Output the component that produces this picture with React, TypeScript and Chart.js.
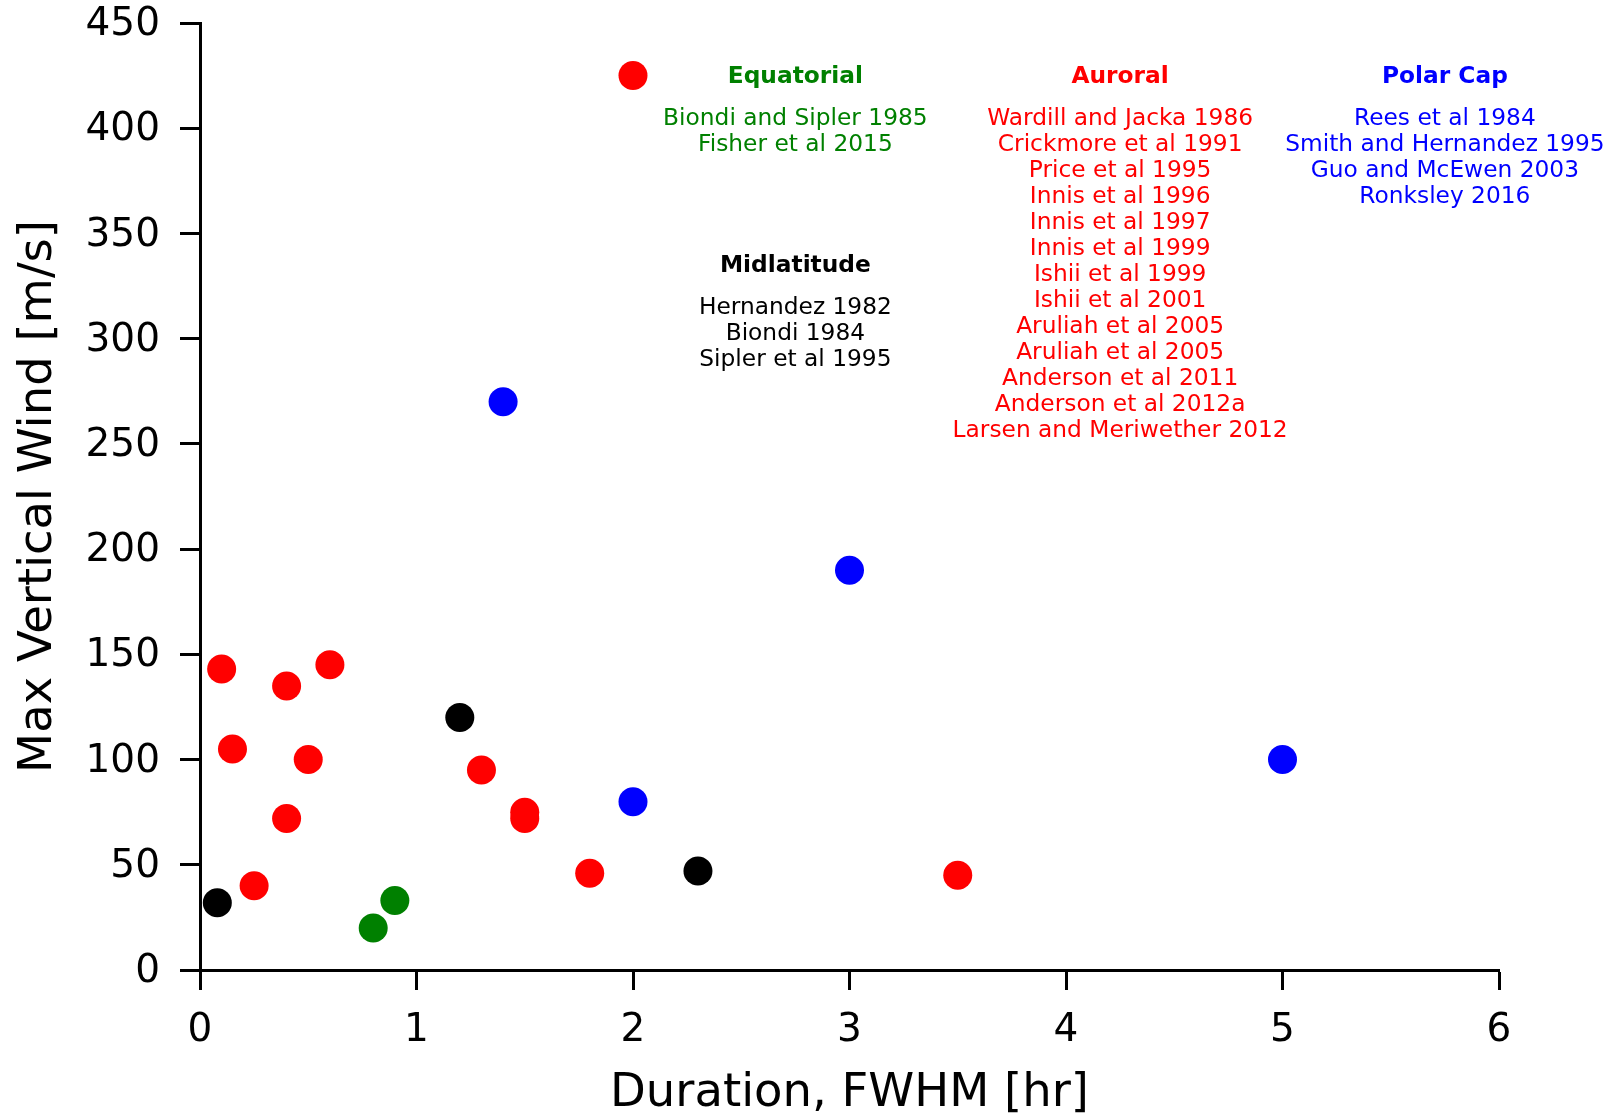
import React, { useEffect, useRef } from "react";
import { Chart, registerables } from "chart.js";

Chart.register(...registerables);

// ---- Data ----
const equatorialX = [0.8, 0.9];
const equatorialY = [20, 33];

const midlatitudeX = [0.08, 1.2, 2.3];
const midlatitudeY = [32, 120, 47];

const auroralX = [2.0, 0.1, 0.15, 0.4, 0.6, 0.5, 0.4, 0.25, 1.3, 1.5, 1.5, 1.8, 3.5];
const auroralY = [425, 143, 105, 135, 145, 100, 72, 40, 95, 75, 72, 46, 45];

const polarCapX = [1.4, 3.0, 2.0, 5.0];
const polarCapY = [270, 190, 80, 100];

const xTickValues = [0, 1, 2, 3, 4, 5, 6];
const yTickValues = [0, 50, 100, 150, 200, 250, 300, 350, 400, 450];

const equatorialRefs = ["Biondi and Sipler 1985", "Fisher et al 2015"];
const midlatitudeRefs = ["Hernandez 1982", "Biondi 1984", "Sipler et al 1995"];
const auroralRefs = [
  "Wardill and Jacka 1986",
  "Crickmore et al 1991",
  "Price et al 1995",
  "Innis et al 1996",
  "Innis et al 1997",
  "Innis et al 1999",
  "Ishii et al 1999",
  "Ishii et al 2001",
  "Aruliah et al 2005",
  "Aruliah et al 2005",
  "Anderson et al 2011",
  "Anderson et al 2012a",
  "Larsen and Meriwether 2012",
];
const polarCapRefs = ["Rees et al 1984", "Smith and Hernandez 1995", "Guo and McEwen 2003", "Ronksley 2016"];

const groupNames = ["Equatorial", "Midlatitude", "Auroral", "Polar Cap"];
const groupColors = ["#008000", "#000000", "#ff0000", "#0000ff"];
// annotation anchors in data coordinates
const annotationX = [2.75, 2.75, 4.25, 5.75];
const annotationHeaderY = [425, 335, 425, 425];
const annotationListY = [405, 315, 405, 405];
const annotationRefs = [equatorialRefs, midlatitudeRefs, auroralRefs, polarCapRefs];

const FONT = "'DejaVu Sans', 'Liberation Sans', sans-serif";

const zip = (xs: number[], ys: number[]) => xs.map((x, i) => ({ x, y: ys[i] }));

const annotationPlugin = {
  id: "refAnnotations",
  afterDatasetsDraw(chart: any) {
    const { ctx } = chart;
    const xs = chart.scales.x;
    const ys = chart.scales.y;
    ctx.save();
    ctx.textAlign = "center";
    ctx.textBaseline = "middle";
    const lineStep = 26;
    const nudge = 1;
    for (let g = 0; g < groupNames.length; g++) {
      const px = xs.getPixelForValue(annotationX[g]);
      ctx.fillStyle = groupColors[g];
      ctx.font = `bold 23.3px ${FONT}`;
      ctx.fillText(groupNames[g], px, ys.getPixelForValue(annotationHeaderY[g]) + nudge);
      ctx.font = `23.3px ${FONT}`;
      const startY = ys.getPixelForValue(annotationListY[g]) + nudge;
      annotationRefs[g].forEach((t, i) => {
        ctx.fillText(t, px, startY + i * lineStep);
      });
    }
    ctx.restore();
  },
};

export default function App() {
  const canvasRef = useRef<HTMLCanvasElement | null>(null);

  useEffect(() => {
    if (!canvasRef.current) return;
    const xsets = [equatorialX, midlatitudeX, auroralX, polarCapX];
    const ysets = [equatorialY, midlatitudeY, auroralY, polarCapY];
    const chart = new Chart(canvasRef.current, {
      type: "scatter",
      data: {
        datasets: groupNames.map((name, i) => ({
          label: name,
          data: zip(xsets[i], ysets[i]),
          backgroundColor: groupColors[i],
          borderColor: groupColors[i],
          borderWidth: 0,
          pointRadius: 14.5,
          pointHoverRadius: 14.5,
        })),
      },
      options: {
        animation: false,
        responsive: false,
        maintainAspectRatio: false,
        devicePixelRatio: 1,
        events: [],
        layout: { padding: { top: 23, right: 122, left: 0, bottom: 0 } },
        plugins: {
          legend: { display: false },
          tooltip: { enabled: false },
        },
        scales: {
          x: {
            type: "linear",
            min: 0,
            max: 6,
            afterBuildTicks: (scale: any) => {
              scale.ticks = xTickValues.map((v) => ({ value: v }));
            },
            afterFit: (scale: any) => {
              scale.height = 147;
              scale.paddingLeft = 0;
              scale.paddingRight = 0;
            },
            ticks: {
              color: "#000",
              font: { family: FONT, size: 39 },
              padding: 17,
              maxRotation: 0,
              callback: (v: any) => String(v),
            },
            grid: {
              display: true,
              drawOnChartArea: false,
              drawTicks: true,
              tickLength: 20,
              tickWidth: 3,
              tickColor: "#000",
            },
            border: { display: true, color: "#000", width: 3 },
            title: {
              display: true,
              text: "Duration, FWHM [hr]",
              color: "#000",
              font: { family: FONT, size: 46.5, lineHeight: 1 },
              padding: { top: 0, bottom: 0 },
            },
          },
          y: {
            type: "linear",
            min: 0,
            max: 450,
            afterBuildTicks: (scale: any) => {
              scale.ticks = yTickValues.map((v) => ({ value: v }));
            },
            afterFit: (scale: any) => {
              scale.width = 200;
              scale.paddingTop = 0;
              scale.paddingBottom = 0;
            },
            ticks: {
              color: "#000",
              font: { family: FONT, size: 39 },
              padding: 20,
              labelOffset: 2,
              callback: (v: any) => String(v),
            },
            grid: {
              display: true,
              drawOnChartArea: false,
              drawTicks: true,
              tickLength: 20,
              tickWidth: 3,
              tickColor: "#000",
            },
            border: { display: true, color: "#000", width: 3 },
            title: {
              display: true,
              text: "Max Vertical Wind [m/s]",
              color: "#000",
              font: { family: FONT, size: 46.5, lineHeight: 1 },
              padding: { top: 16, bottom: 0 },
            },
          },
        },
      },
      plugins: [annotationPlugin],
    });
    return () => chart.destroy();
  }, []);

  return (
    <div style={{ position: "fixed", left: 0, top: 0, width: 1621, height: 1117, background: "#fff" }}>
      <canvas ref={canvasRef} width={1621} height={1117} style={{ width: 1621, height: 1117, display: "block" }} />
    </div>
  );
}
